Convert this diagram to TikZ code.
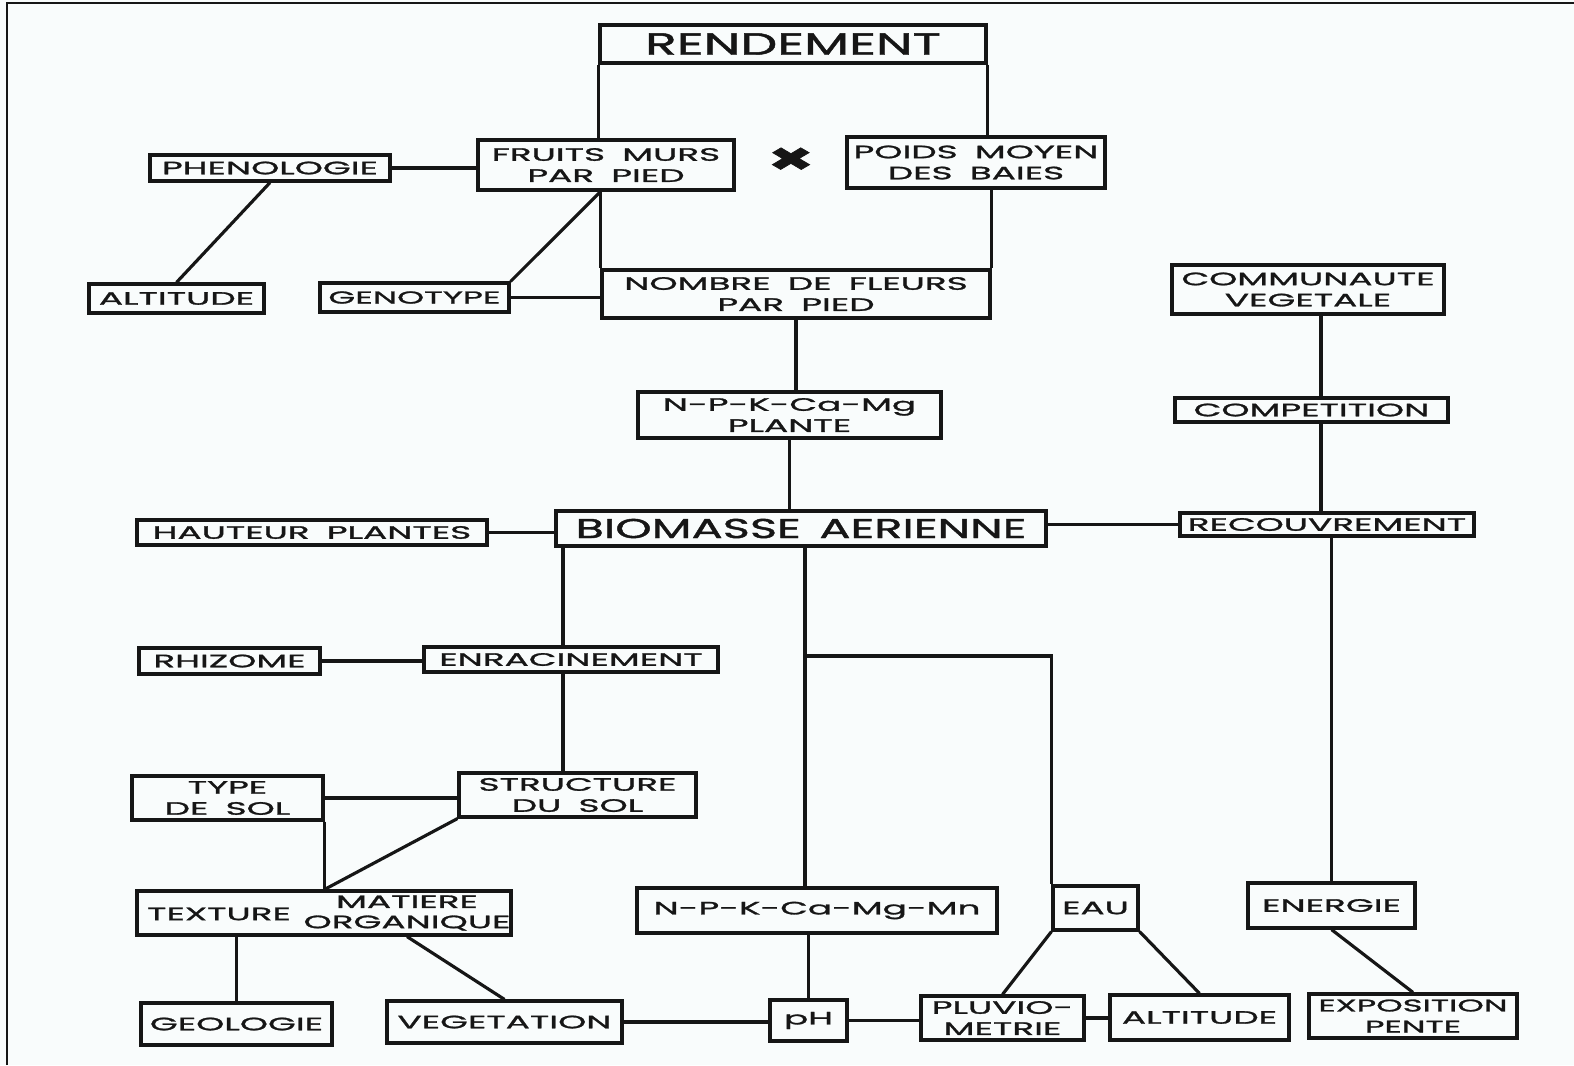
\documentclass[tikz,border=0pt]{standalone}
\usepackage{fontspec}
\usepackage{tikz}
\usetikzlibrary{positioning}
\newfontfamily\lettrage[FakeStretch=2.0, WordSpace=1.8, FakeBold=1.5]{Poppins}
\newfontfamily\titrage[FakeStretch=1.7, WordSpace=1.5, FakeBold=1.5]{Poppins}
\definecolor{papier}{RGB}{249,252,252}
\definecolor{encre}{RGB}{22,22,22}

\begin{document}
\begin{tikzpicture}[x=0.02cm, y=-0.02cm, line width=1.8pt, draw=encre, text=encre,
    box/.style={draw, fill=papier, inner sep=1pt, align=center,
                font=\lettrage\fontsize{10.2}{12}\selectfont},
    titre/.style={box, font=\titrage\fontsize{17.5}{20}\selectfont},
    libre/.style={inner sep=0pt, align=center, font=\lettrage\fontsize{10.2}{11.5}\selectfont}]
  \fill[papier] (0,0) rectangle (1574,1065);
  \useasboundingbox (0,0) rectangle (1574,1065);
  \draw[line width=1pt] (7,1065) |- (1574,3);

  % rendement et composantes
  \node[titre, minimum width=7.72cm, minimum height=0.76cm] (rendement) at (793,44) {RENDEMENT};
  \node[box, minimum width=5.12cm, minimum height=1.00cm] (fruits) at (606,165) {FRUITS MURS\\PAR PIED};
  \node[box, minimum width=5.16cm, minimum height=1.02cm] (poids) at (976,162.5) {POIDS MOYEN\\DES BAIES};
  \node[font=\titrage\bfseries\fontsize{25}{25}\selectfont] (fois) at (791,161) {×};
  \node[box, minimum width=4.80cm, minimum height=0.52cm] (pheno) at (270,168) {PHENOLOGIE};
  \node[box, minimum width=3.50cm, minimum height=0.58cm] (altg) at (176.5,298.5) {ALTITUDE};
  \node[box, minimum width=3.78cm, minimum height=0.58cm,
        font=\lettrage\fontsize{9.8}{12}\selectfont] (geno) at (414.5,297.5) {GENOTYPE};
  \node[box, minimum width=7.76cm, minimum height=0.96cm] (nombre) at (796,294) {NOMBRE DE FLEURS\\PAR PIED};
  \node[box, minimum width=5.44cm, minimum height=0.98cm] (commu) at (1308,289.5) {COMMUNAUTE\\VEGETALE};
  \node[box, minimum width=6.06cm, minimum height=0.92cm] (plante) at (789.5,415) {N-P-K-Ca-Mg\\PLANTE};
  \node[box, minimum width=5.46cm, minimum height=0.48cm] (compet) at (1311.5,410) {COMPETITION};

  % biomasse
  \node[titre, minimum width=9.80cm, minimum height=0.70cm,
        font=\titrage\fontsize{15.5}{18}\selectfont] (biomasse) at (801,528.5) {BIOMASSE AERIENNE};
  \node[box, minimum width=7.00cm, minimum height=0.50cm] (hauteur) at (312,532.5) {HAUTEUR PLANTES};
  \node[box, minimum width=5.88cm, minimum height=0.46cm] (recouv) at (1327,524.5) {RECOUVREMENT};

  % sol
  \node[box, minimum width=3.62cm, minimum height=0.52cm] (rhizome) at (229.5,661) {RHIZOME};
  \node[box, minimum width=5.88cm, minimum height=0.50cm] (enrac) at (571,659.5) {ENRACINEMENT};
  \node[box, minimum width=3.82cm, minimum height=0.88cm] (typesol) at (227.5,798) {TYPE\\DE SOL};
  \node[box, minimum width=4.74cm, minimum height=0.88cm] (structure) at (577.5,795) {STRUCTURE\\DU SOL};
  \node[box, minimum width=7.48cm, minimum height=0.88cm] (sol) at (324,913) {};
  \node[libre] (texture) at (219,914) {TEXTURE};
  \node[libre] (matiere) at (407,913) {MATIERE\\ORGANIQUE};
  \node[box, minimum width=7.20cm, minimum height=0.90cm] (npkmn) at (817,910.5) {N-P-K-Ca-Mg-Mn};
  \node[box, minimum width=1.70cm, minimum height=0.88cm] (eau) at (1095.5,908) {EAU};
  \node[box, minimum width=3.34cm, minimum height=0.90cm] (energie) at (1331.5,905.5) {ENERGIE};

  % milieu
  \node[box, minimum width=3.82cm, minimum height=0.84cm] (geol) at (236.5,1024) {GEOLOGIE};
  \node[box, minimum width=4.70cm, minimum height=0.84cm] (veget) at (504.5,1022) {VEGETATION};
  \node[box, minimum width=1.54cm, minimum height=0.82cm] (ph) at (808.5,1020.5) {pH};
  \node[box, minimum width=3.26cm, minimum height=0.88cm] (pluvio) at (1002.5,1018) {PLUVIO-\\METRIE};
  \node[box, minimum width=3.58cm, minimum height=0.90cm] (altd) at (1199.5,1017.5) {ALTITUDE};
  \node[box, minimum width=4.16cm, minimum height=0.88cm,
        font=\lettrage\fontsize{9.6}{12}\selectfont] (expo) at (1413,1016) {EXPOSITION\\PENTE};

  \coordinate (axeveg) at (1321,0);
  \coordinate (axeracine) at (563,0);
  \coordinate (axesol) at (805,656);

  \draw (rendement.south west) -- (rendement.south west |- fruits.north);
  \draw (rendement.south east) -- (rendement.south east |- poids.north);
  \draw (fruits.south -| nombre.north west) -- (nombre.north west);
  \draw (poids.south -| nombre.north east) -- (nombre.north east);
  \draw (pheno.east) -- (pheno.east -| fruits.west);
  \draw (pheno.south) -- (altg.north);
  \draw (fruits.south -| nombre.north west) -- (geno.north east);
  \draw (geno.east) -- (geno.east -| nombre.west);
  \draw (nombre.south) -- (nombre.south |- plante.north);
  \draw (plante.south) -- (plante.south |- biomasse.north);
  \draw (hauteur.east) -- (hauteur.east -| biomasse.west);
  \draw (recouv.west -| biomasse.east) -- (recouv.west);
  \draw (commu.south -| axeveg) -- (compet.north -| axeveg);
  \draw (compet.south -| axeveg) -- (recouv.north -| axeveg);
  \draw (recouv.south -| energie.north) -- (energie.north);
  \draw (energie.south) -- (expo.north);

  \draw (biomasse.south -| axesol) -- (npkmn.north -| axesol);
  \draw (axesol) -| (eau.north west);
  \draw (npkmn.south -| ph.north) -- (ph.north);
  \draw (eau.south west) -- (pluvio.north);
  \draw (eau.south east) -- (altd.north);
  \draw (ph.east) -- (ph.east -| pluvio.west);
  \draw (pluvio.east) -- (pluvio.east -| altd.west);
  \draw (veget.east) -- (veget.east -| ph.west);

  \draw (biomasse.south -| axeracine) -- (enrac.north -| axeracine);
  \draw (enrac.south -| axeracine) -- (structure.north -| axeracine);
  \draw (rhizome.east) -- (rhizome.east -| enrac.west);
  \draw (typesol.east) -- (typesol.east -| structure.west);
  \draw (typesol.south east) -- (typesol.south east |- sol.north);
  \draw (structure.south west) -- (typesol.south east |- sol.north);
  \draw (geol.north) -- (geol.north |- sol.south);
  \draw (matiere.south |- sol.south) -- (veget.north);
\end{tikzpicture}
\end{document}
